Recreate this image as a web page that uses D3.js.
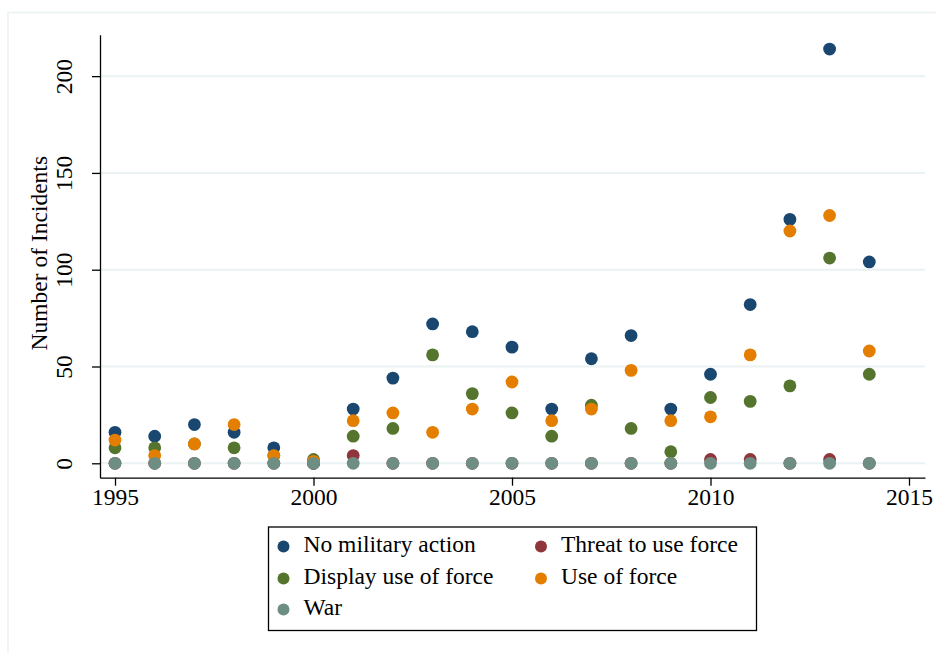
<!DOCTYPE html>
<html>
<head>
<meta charset="utf-8">
<script src="https://cdn.jsdelivr.net/npm/d3@7"></script>
<style>
  html, body { margin: 0; padding: 0; background: #ffffff; }
  svg { display: block; }
  text { font-family: "Liberation Serif", "Times New Roman", serif; fill: #000; }
</style>
</head>
<body>
<svg id="chart" width="936" height="653"></svg>
<script>
// Incidents per year by level of military action
const years = [1995, 1996, 1997, 1998, 1999, 2000, 2001, 2002, 2003, 2004,
               2005, 2006, 2007, 2008, 2009, 2010, 2011, 2012, 2013, 2014];
const noMilitaryAction = [16, 14, 20, 16, 8, 0, 28, 44, 72, 68, 60, 28, 54, 66, 28, 46, 82, 126, 214, 104];
const threatToUseForce = [0, 0, 0, 0, 0, 0, 4, 0, 0, 0, 0, 0, 0, 0, 0, 2, 2, 0, 2, 0];
const displayUseOfForce = [8, 8, 10, 8, 4, 2, 14, 18, 56, 36, 26, 14, 30, 18, 6, 34, 32, 40, 106, 46];
const useOfForce = [12, 4, 10, 20, 4, 1, 22, 26, 16, 28, 42, 22, 28, 48, 22, 24, 56, 120, 128, 58];
const war = [0, 0, 0, 0, 0, 0, 0, 0, 0, 0, 0, 0, 0, 0, 0, 0, 0, 0, 0, 0];

const seriesNames = ["No military action", "Threat to use force", "Display use of force", "Use of force", "War"];
const seriesColors = ["#1a476f", "#90353b", "#55752f", "#e37e00", "#6e8e84"];
const seriesValues = [noMilitaryAction, threatToUseForce, displayUseOfForce, useOfForce, war];

const xTicks = [1995, 2000, 2005, 2010, 2015];
const yTicks = [0, 50, 100, 150, 200];
const yTitle = "Number of Incidents";

const fontSize = 23.5;
const svg = d3.select("#chart");

// light outer frame of the graph region
svg.append("rect")
  .attr("x", 8).attr("y", 12.5)
  .attr("width", 940).attr("height", 660)
  .attr("fill", "none")
  .attr("stroke", "#eaf1f2")
  .attr("stroke-width", 1.5);

const plot = { left: 100, right: 925, top: 34.7, bottom: 477.7 };

const x = d3.scaleLinear().domain([1994.622, 2015.403]).range([plot.left, plot.right]);
const y = d3.scaleLinear().domain([-7.44, 221.4]).range([plot.bottom, plot.top]);

// horizontal gridlines
svg.append("g")
  .selectAll("line")
  .data(yTicks)
  .join("line")
  .attr("x1", plot.left + 1).attr("x2", plot.right)
  .attr("y1", d => y(d)).attr("y2", d => y(d))
  .attr("stroke", "#eaf2f3")
  .attr("stroke-width", 2);

// markers, drawn series by series
const markerRadius = 6.4;
seriesValues.forEach((vals, si) => {
  svg.append("g")
    .selectAll("circle")
    .data(years.map((yr, i) => ({ yr, v: vals[i] })))
    .join("circle")
    .attr("cx", d => x(d.yr))
    .attr("cy", d => y(d.v))
    .attr("r", markerRadius)
    .attr("fill", seriesColors[si]);
});

// x axis
const xAxis = svg.append("g")
  .attr("transform", `translate(0,${plot.bottom})`)
  .call(d3.axisBottom(x).tickValues(xTicks).tickFormat(d3.format("d")).tickSize(8).tickSizeOuter(0).tickPadding(3));
xAxis.select(".domain").attr("stroke", "#000").attr("stroke-width", 1.3);
xAxis.selectAll(".tick line").attr("stroke", "#000").attr("stroke-width", 1.3);
xAxis.selectAll(".tick text")
  .style("font-family", "'Liberation Serif', serif")
  .attr("font-size", fontSize)
  .attr("fill", "#000");

// y axis with rotated labels
const yAxis = svg.append("g")
  .attr("transform", `translate(${plot.left},0)`)
  .call(d3.axisLeft(y).tickValues(yTicks).tickSize(8).tickSizeOuter(0).tickFormat(d3.format("d")));
yAxis.select(".domain").attr("stroke", "#000").attr("stroke-width", 1.3);
yAxis.selectAll(".tick line").attr("stroke", "#000").attr("stroke-width", 1.3);
yAxis.selectAll(".tick text")
  .style("font-family", "'Liberation Serif', serif")
  .attr("font-size", fontSize)
  .attr("fill", "#000")
  .attr("x", null).attr("dy", null)
  .attr("text-anchor", "middle")
  .attr("transform", "translate(-33,0) rotate(-90)")
  .attr("dominant-baseline", "middle");

// y axis title
svg.append("text")
  .attr("transform", `translate(42,${(plot.top + plot.bottom) / 2 - 3}) rotate(-90)`)
  .attr("text-anchor", "middle")
  .attr("dominant-baseline", "middle")
  .attr("font-size", fontSize)
  .text(yTitle);

// legend
const legend = svg.append("g");
legend.append("rect")
  .attr("x", 268.5).attr("y", 527)
  .attr("width", 488).attr("height", 103.5)
  .attr("fill", "#fff")
  .attr("stroke", "#000")
  .attr("stroke-width", 1.3);

const colX = [283.5, 541];
const rowY = [546.5, 578.5, 609.5];
seriesNames.forEach((name, i) => {
  const cx = colX[i % 2];
  const cy = rowY[Math.floor(i / 2)];
  legend.append("circle")
    .attr("cx", cx).attr("cy", cy).attr("r", 6)
    .attr("fill", seriesColors[i]);
  legend.append("text")
    .attr("x", cx + 20).attr("y", cy)
    .attr("dominant-baseline", "middle")
    .attr("font-size", fontSize)
    .text(name);
});
</script>
</body>
</html>
